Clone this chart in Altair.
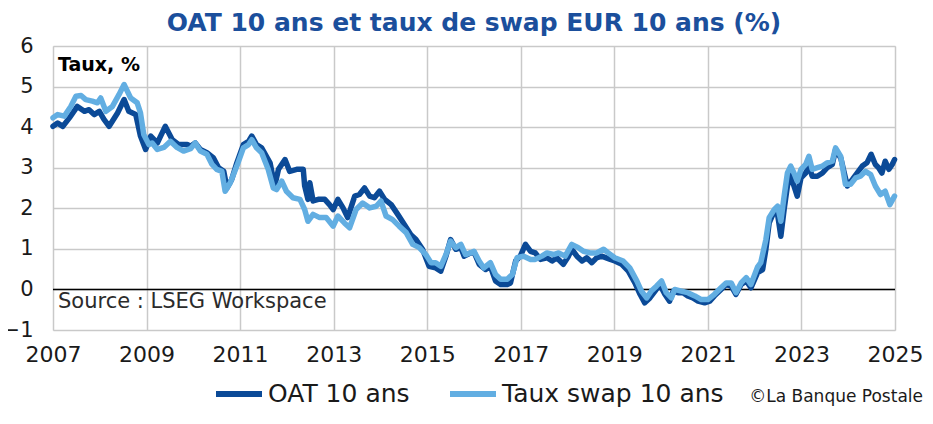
import altair as alt
import pandas as pd

# ---- data ----
series_names = ["OAT 10 ans", "Taux swap 10 ans"]
series_colors = ["#0B4A97", "#62AEE2"]

oat_years = [
    2007.00, 2007.10, 2007.21, 2007.35, 2007.52, 2007.67, 2007.77, 2007.88, 2007.99, 2008.09,
    2008.20, 2008.38, 2008.52, 2008.62, 2008.77, 2008.87, 2008.98, 2009.09, 2009.23, 2009.40,
    2009.55, 2009.69, 2009.87, 2009.94, 2010.04, 2010.15, 2010.29, 2010.43, 2010.54, 2010.65,
    2010.72, 2010.82, 2010.93, 2011.07, 2011.18, 2011.25, 2011.35, 2011.46, 2011.64, 2011.74,
    2011.82, 2011.96, 2012.06, 2012.21, 2012.35, 2012.38, 2012.45, 2012.49, 2012.56, 2012.67,
    2012.81, 2012.91, 2012.99, 2013.09, 2013.20, 2013.30, 2013.45, 2013.55, 2013.66, 2013.77,
    2013.87, 2013.98, 2014.09, 2014.23, 2014.37, 2014.51, 2014.65, 2014.76, 2014.90, 2015.04,
    2015.18, 2015.29, 2015.40, 2015.50, 2015.61, 2015.72, 2015.79, 2015.89, 2016.00, 2016.11,
    2016.25, 2016.35, 2016.46, 2016.57, 2016.71, 2016.78, 2016.89, 2016.99, 2017.10, 2017.21,
    2017.31, 2017.42, 2017.56, 2017.67, 2017.77, 2017.91, 2018.02, 2018.09, 2018.20, 2018.31,
    2018.41, 2018.52, 2018.62, 2018.73, 2018.87, 2019.01, 2019.16, 2019.30, 2019.44, 2019.55,
    2019.65, 2019.76, 2019.87, 2019.97, 2020.08, 2020.18, 2020.26, 2020.36, 2020.47, 2020.57,
    2020.68, 2020.79, 2020.93, 2021.04, 2021.14, 2021.28, 2021.39, 2021.50, 2021.60, 2021.71,
    2021.82, 2021.92, 2022.06, 2022.17, 2022.24, 2022.31, 2022.42, 2022.49, 2022.56, 2022.63,
    2022.70, 2022.77, 2022.84, 2022.91, 2022.99, 2023.09, 2023.16, 2023.23, 2023.34, 2023.45,
    2023.55, 2023.66, 2023.73, 2023.84, 2023.98, 2024.09, 2024.19, 2024.30, 2024.40, 2024.49,
    2024.58, 2024.65, 2024.72, 2024.79, 2024.87, 2024.94, 2024.99,
]
oat_values = [
    4.02, 4.10, 4.02, 4.23, 4.51, 4.39, 4.43, 4.31, 4.39, 4.19,
    4.02, 4.35, 4.68, 4.39, 4.31, 3.78, 3.45, 3.78, 3.61, 4.02,
    3.69, 3.57, 3.57, 3.53, 3.61, 3.45, 3.37, 3.24, 3.00, 2.91,
    2.50, 2.71, 3.12, 3.57, 3.65, 3.78, 3.57, 3.49, 3.12, 2.55,
    2.96, 3.20, 2.91, 2.96, 2.96, 2.55, 2.22, 2.63, 2.18, 2.22,
    2.22, 2.09, 1.97, 2.22, 2.01, 1.77, 2.30, 2.34, 2.50, 2.30,
    2.26, 2.42, 2.22, 2.09, 1.85, 1.60, 1.35, 1.23, 0.99, 0.57,
    0.53, 0.45, 0.82, 1.23, 0.99, 1.03, 0.82, 0.88, 0.92, 0.62,
    0.49, 0.57, 0.21, 0.12, 0.12, 0.16, 0.70, 0.82, 1.11, 0.94,
    0.90, 0.74, 0.78, 0.70, 0.78, 0.62, 0.82, 0.99, 0.82, 0.70,
    0.78, 0.66, 0.78, 0.82, 0.76, 0.70, 0.62, 0.45, 0.16, -0.12,
    -0.33, -0.21, -0.04, 0.12, -0.12, -0.29, -0.04, -0.08, -0.08, -0.16,
    -0.21, -0.29, -0.33, -0.29, -0.16, 0.00, 0.12, 0.08, -0.12, 0.12,
    0.21, 0.04, 0.41, 0.49, 0.99, 1.64, 1.93, 1.85, 1.31, 1.97,
    2.55, 2.83, 2.55, 2.30, 2.75, 2.87, 3.04, 2.79, 2.79, 2.87,
    3.00, 3.08, 3.45, 3.24, 2.55, 2.71, 2.87, 3.04, 3.12, 3.33,
    3.08, 3.00, 2.87, 3.16, 2.96, 3.08, 3.20,
]

swap_years = [
    2007.00, 2007.10, 2007.24, 2007.38, 2007.49, 2007.60, 2007.70, 2007.84, 2007.95, 2008.02,
    2008.13, 2008.27, 2008.41, 2008.52, 2008.66, 2008.80, 2008.87, 2008.94, 2009.05, 2009.12,
    2009.23, 2009.37, 2009.51, 2009.65, 2009.79, 2009.94, 2010.04, 2010.15, 2010.29, 2010.40,
    2010.50, 2010.61, 2010.68, 2010.79, 2010.93, 2011.07, 2011.18, 2011.25, 2011.35, 2011.46,
    2011.60, 2011.71, 2011.78, 2011.89, 2011.99, 2012.13, 2012.28, 2012.38, 2012.45, 2012.56,
    2012.70, 2012.84, 2012.99, 2013.09, 2013.23, 2013.34, 2013.48, 2013.62, 2013.77, 2013.91,
    2014.01, 2014.12, 2014.26, 2014.40, 2014.55, 2014.69, 2014.83, 2014.97, 2015.08, 2015.18,
    2015.29, 2015.40, 2015.50, 2015.61, 2015.72, 2015.82, 2015.92, 2016.00, 2016.11, 2016.21,
    2016.35, 2016.46, 2016.57, 2016.71, 2016.82, 2016.92, 2017.06, 2017.21, 2017.31, 2017.45,
    2017.56, 2017.70, 2017.81, 2017.95, 2018.09, 2018.23, 2018.34, 2018.48, 2018.62, 2018.77,
    2018.87, 2019.01, 2019.19, 2019.33, 2019.48, 2019.58, 2019.69, 2019.79, 2019.90, 2020.01,
    2020.11, 2020.22, 2020.29, 2020.43, 2020.57, 2020.72, 2020.86, 2021.00, 2021.14, 2021.28,
    2021.39, 2021.50, 2021.60, 2021.71, 2021.82, 2021.92, 2022.06, 2022.13, 2022.24, 2022.31,
    2022.42, 2022.49, 2022.56, 2022.63, 2022.70, 2022.77, 2022.84, 2022.91, 2022.99, 2023.09,
    2023.16, 2023.23, 2023.34, 2023.45, 2023.55, 2023.66, 2023.73, 2023.84, 2023.94, 2024.05,
    2024.16, 2024.26, 2024.37, 2024.48, 2024.58, 2024.69, 2024.79, 2024.89, 2024.99,
]
swap_values = [
    4.23, 4.31, 4.27, 4.51, 4.76, 4.78, 4.68, 4.64, 4.60, 4.72,
    4.39, 4.51, 4.80, 5.05, 4.72, 4.60, 4.35, 3.82, 3.57, 3.61,
    3.45, 3.50, 3.65, 3.50, 3.41, 3.47, 3.61, 3.41, 3.33, 3.08,
    2.96, 2.91, 2.42, 2.63, 3.04, 3.49, 3.57, 3.69, 3.49, 3.37,
    2.96, 2.50, 2.46, 2.67, 2.42, 2.26, 2.22, 1.97, 1.68, 1.85,
    1.77, 1.77, 1.56, 1.81, 1.64, 1.52, 1.97, 2.13, 2.01, 2.05,
    2.18, 1.81, 1.72, 1.56, 1.40, 1.11, 1.03, 0.86, 0.66, 0.66,
    0.57, 0.86, 1.19, 1.03, 1.11, 0.86, 0.90, 0.94, 0.70, 0.53,
    0.66, 0.37, 0.25, 0.25, 0.37, 0.78, 0.82, 0.74, 0.74, 0.82,
    0.90, 0.86, 0.90, 0.82, 1.11, 1.03, 0.94, 0.90, 0.90, 0.99,
    0.90, 0.78, 0.70, 0.53, 0.21, -0.04, -0.21, -0.04, 0.08, 0.21,
    -0.08, -0.21, 0.00, -0.04, -0.08, -0.16, -0.25, -0.25, -0.12, 0.04,
    0.16, 0.16, -0.08, 0.16, 0.29, 0.12, 0.55, 0.66, 1.23, 1.77,
    1.97, 2.05, 1.68, 2.30, 2.87, 3.04, 2.87, 2.67, 2.96, 3.08,
    3.28, 2.96, 3.00, 3.04, 3.12, 3.16, 3.49, 3.28, 2.59, 2.59,
    2.75, 2.79, 2.91, 2.83, 2.55, 2.34, 2.42, 2.09, 2.30,
]

x_ticks = [2007, 2009, 2011, 2013, 2015, 2017, 2019, 2021, 2023, 2025]
y_ticks = [-1, 0, 1, 2, 3, 4, 5, 6]

title_text = "OAT 10 ans et taux de swap EUR 10 ans (%)"
unit_text = "Taux, %"
source_text = "Source : LSEG Workspace"
credit_text = "©La Banque Postale"

FONT = "DejaVu Sans"
W, H = 842, 284

df = pd.concat(
    [
        pd.DataFrame({"year": oat_years, "value": oat_values, "series": series_names[0]}),
        pd.DataFrame({"year": swap_years, "value": swap_values, "series": series_names[1]}),
    ],
    ignore_index=True,
)

x_enc = alt.X(
    "year:Q",
    scale=alt.Scale(domain=[2007, 2025], nice=False, zero=False),
    axis=alt.Axis(
        values=x_ticks, format="d", title=None, labelFont=FONT, labelFontSize=22,
        labelColor="#1a1a1a", labelPadding=14, ticks=False, domain=False,
        grid=True, gridColor="#c9c9c9", gridWidth=1.5, labelFlush=False,
    ),
)
y_enc = alt.Y(
    "value:Q",
    scale=alt.Scale(domain=[-1, 6], nice=False, zero=False),
    axis=alt.Axis(
        values=y_ticks, format="d", title=None, labelFont=FONT, labelFontSize=21,
        labelColor="#1a1a1a", labelPadding=20, ticks=False, domain=False,
        grid=True, gridColor="#c9c9c9", gridWidth=1.5, labelFlush=False,
    ),
)

lines = alt.Chart(df).mark_line(strokeWidth=5.5, strokeJoin="round", strokeCap="round").encode(
    x=x_enc,
    y=y_enc,
    color=alt.Color(
        "series:N",
        scale=alt.Scale(domain=series_names, range=series_colors),
        legend=alt.Legend(
            title=None, orient="none", legendX=160, legendY=322, direction="horizontal",
            symbolType="stroke", symbolSize=2116, symbolStrokeWidth=6,
            labelFont=FONT, labelFontSize=25, labelColor="#1a1a1a", labelLimit=500,
            labelOffset=3, columnPadding=28, padding=0,
        ),
    ),
)

zero_rule = alt.Chart(pd.DataFrame({"v": [0]})).mark_rule(color="#000000", strokeWidth=1.5).encode(
    y=alt.Y("v:Q", scale=alt.Scale(domain=[-1, 6], nice=False))
)

def label(text, x, y, size, weight="normal", color="#1a1a1a", align="left"):
    return alt.Chart(pd.DataFrame({"t": [text]})).mark_text(
        font=FONT, fontSize=size, fontWeight=weight, color=color, align=align, baseline="middle"
    ).encode(text="t:N", x=alt.value(x), y=alt.value(y))

title_mark = label(title_text, W / 2, -23, 25, "bold", "#1B4F9C", "center")
unit_mark = label(unit_text, 5, 19, 19, "bold", "#000000")
source_mark = label(source_text, 5, 256, 21, "normal", "#2b2b2b")
credit_mark = label(credit_text, 870, 351, 17, "normal", "#1a1a1a", "right")

chart = (
    alt.layer(zero_rule, lines, title_mark, unit_mark, source_mark, credit_mark)
    .properties(
        width=W,
        height=H,
        autosize=alt.AutoSizeParams(type="none"),
        padding={"left": 45, "top": 38, "right": 30, "bottom": 78},
    )
    .configure_view(stroke="#3a3a3a", strokeWidth=1.5)
    .configure(background="white")
)

chart.save("out.html", embed_options={"renderer": "svg", "actions": False})
